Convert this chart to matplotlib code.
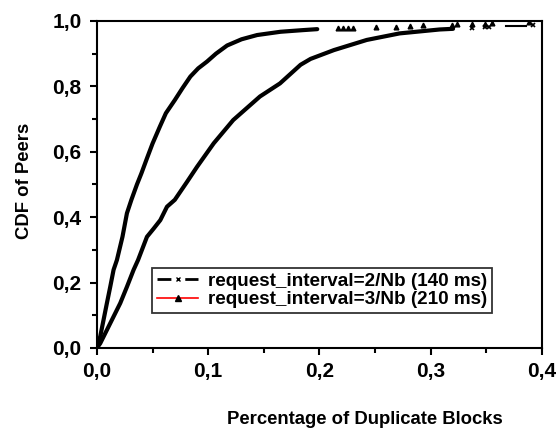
import matplotlib
matplotlib.use("Agg")
import matplotlib.pyplot as plt
import matplotlib.ticker as mticker
from matplotlib.lines import Line2D

plt.rcParams["font.family"] = ["Liberation Sans", "DejaVu Sans"]
plt.rcParams["font.weight"] = "bold"
plt.rcParams["axes.labelweight"] = "bold"

# request_interval=3/Nb (210 ms) -- steeper curve, dense part
x_3nb = [0, 0.003, 0.006, 0.009, 0.012, 0.015, 0.018, 0.023, 0.027, 0.031,
         0.036, 0.040, 0.045, 0.050, 0.0566, 0.062, 0.070, 0.077, 0.084,
         0.091, 0.099, 0.107, 0.117, 0.130, 0.144, 0.165, 0.185, 0.198]
y_3nb = [0, 0.035, 0.086, 0.137, 0.187, 0.239, 0.269, 0.34, 0.412, 0.453,
         0.50, 0.534, 0.58, 0.625, 0.677, 0.718, 0.758, 0.795, 0.830,
         0.855, 0.876, 0.90, 0.925, 0.944, 0.957, 0.967, 0.972, 0.975]
# sparse tail of the same series (single triangles)
x_3nb_tail = [0.2166, 0.2211, 0.2256, 0.230, 0.251, 0.269, 0.281, 0.293,
              0.319, 0.324, 0.337, 0.349, 0.355, 0.388]
y_3nb_tail = [0.977, 0.978, 0.978, 0.979, 0.981, 0.983, 0.986, 0.987,
              0.989, 0.990, 0.991, 0.992, 0.993, 0.996]

# request_interval=2/Nb (140 ms) -- slower curve, dense part
x_2nb = [0, 0.003, 0.009, 0.015, 0.021, 0.027, 0.033, 0.037, 0.045, 0.051,
         0.057, 0.063, 0.070, 0.081, 0.090, 0.105, 0.1225, 0.1465, 0.1645,
         0.183, 0.192, 0.213, 0.2425, 0.272, 0.308, 0.320]
y_2nb = [0, 0.014, 0.055, 0.096, 0.137, 0.187, 0.239, 0.269, 0.340, 0.365,
         0.391, 0.432, 0.453, 0.508, 0.554, 0.626, 0.697, 0.769, 0.809,
         0.866, 0.884, 0.911, 0.942, 0.962, 0.974, 0.976]
x_2nb_tail = [0.337, 0.349, 0.352, 0.368, 0.377, 0.386, 0.392]
y_2nb_tail = [0.978, 0.983, 0.983, 0.986, 0.986, 0.986, 0.988]

labels = ["request_interval=2/Nb (140 ms)", "request_interval=3/Nb (210 ms)"]

fig = plt.figure(figsize=(5.6, 4.28), dpi=100)
ax = fig.add_axes([0.173, 0.187, 0.795, 0.764])

ax.plot(x_3nb, y_3nb, "-", color="black", linewidth=3.0, solid_capstyle="round")
ax.plot(x_3nb_tail, y_3nb_tail, "^", color="black", markersize=3.4)
ax.plot(x_2nb, y_2nb, "-", color="black", linewidth=3.0, solid_capstyle="round")
ax.plot(x_2nb_tail[:3], y_2nb_tail[:3], "x", color="black", markersize=3.5, mew=1.2)
ax.plot(x_2nb_tail[3:6], y_2nb_tail[3:6], "-", color="black", linewidth=1.5)
ax.plot(x_2nb_tail[6:], y_2nb_tail[6:], "x", color="black", markersize=3.5, mew=1.2)

ax.set_xlim(0, 0.4)
ax.set_ylim(0, 1.0)
ax.xaxis.set_major_locator(mticker.MultipleLocator(0.1))
ax.xaxis.set_minor_locator(mticker.MultipleLocator(0.05))
ax.yaxis.set_major_locator(mticker.MultipleLocator(0.2))
ax.yaxis.set_minor_locator(mticker.MultipleLocator(0.1))
comma = mticker.FuncFormatter(lambda v, _: f"{v:.1f}".replace(".", ","))
ax.xaxis.set_major_formatter(comma)
ax.yaxis.set_major_formatter(comma)

for s in ax.spines.values():
    s.set_linewidth(1.5)
ax.tick_params(which="both", direction="out", top=False, right=False,
               width=1.5, labelsize=15)
ax.tick_params(which="major", length=5)
ax.tick_params(which="minor", length=3.5)
ax.tick_params(axis="y", pad=6)
ax.tick_params(axis="x", pad=5)

ax.set_xlabel("Percentage of Duplicate Blocks", fontsize=13.3)
ax.set_ylabel("CDF of Peers", fontsize=13.3)
ax.xaxis.set_label_coords(0.602, -0.194)
ax.yaxis.set_label_coords(-0.144, 0.51)

handles = [
    Line2D([], [], color="black", linestyle=(0, (5, 2, 1, 2)), linewidth=2,
           marker="x", markersize=3, markevery=[1]),
    Line2D([], [], color="red", linestyle="-", linewidth=1.2,
           marker="^", markersize=4, markerfacecolor="black",
           markeredgecolor="black"),
]
leg = ax.legend(handles, labels, loc="lower left", bbox_to_anchor=(0.124, 0.107),
                fontsize=13.6, frameon=True, fancybox=False, borderpad=0.25,
                handlelength=2.2, handletextpad=0.5, labelspacing=0.05,
                borderaxespad=0)
leg.get_frame().set_edgecolor("black")
leg.get_frame().set_linewidth(1.3)

fig.savefig("out.png", dpi=100)
